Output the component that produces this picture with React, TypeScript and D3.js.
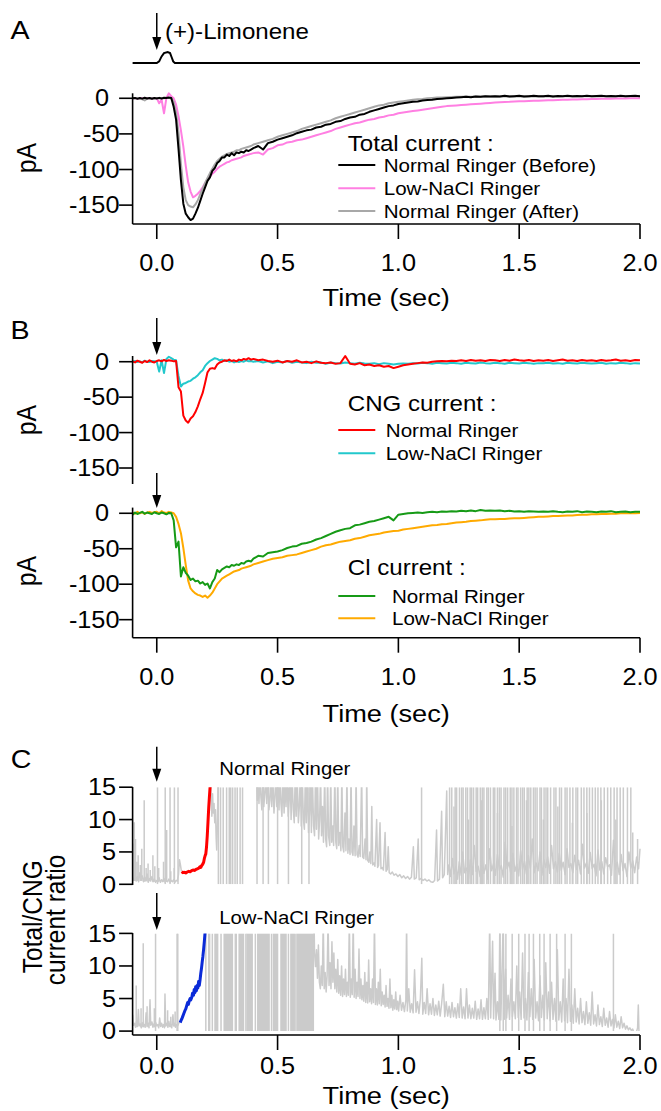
import React from "react";
import * as d3 from "d3";

const FONT = "'Liberation Sans', Arial, Helvetica, sans-serif";
const SX = 1.1;

// ---------- axes ----------
const xTicks = [0, 0.5, 1.0, 1.5, 2.0];
const xTickLabels = ["0.0", "0.5", "1.0", "1.5", "2.0"];
const pATicks = [0, -50, -100, -150];
const ratioTicks = [0, 5, 10, 15];

// sample times of the current traces (A, B)
const tEarly = d3.range(50).map((i) => Math.round((-0.1 + i * 0.01) * 1000) / 1000);
const tLate = d3.range(81).map((i) => Math.round((0.4 + i * 0.02) * 1000) / 1000);

// ---------- Panel A : stimulus ----------
const stimulus = [[-0.1, 0], [0.0, 0], [0.01, 0.15], [0.02, 0.6], [0.03, 0.9], [0.045, 1.0], [0.055, 0.9], [0.062, 0.5], [0.068, 0.15], [0.075, 0], [2.0, 0]];

// ---------- Panel A : total current (pA) ----------
const normalBeforeEarly = [
  0, 0.5, -0.8, 0.3, -0.5, 0.8, -0.3, 0.4, -0.6, 0.5,
  -0.2, 0.6, -0.4, 0.8, 0.3, 1.0, 0.5, -12, -30, -71,
  -115, -148, -162, -167, -171, -169, -162, -154, -144, -134,
  -125, -116, -111, -102, -98, -91, -88, -83, -83, -79,
  -81, -77, -80, -76, -77, -75, -76, -73, -74, -72,
];
const normalBeforeLate = [
  -70, -67, -72, -63, -61, -58, -56, -54, -52, -49,
  -47, -45, -44, -41, -40, -37, -36, -33, -32, -29,
  -27, -26, -23, -22, -19, -17, -15, -13, -11, -10,
  -8, -7, -6, -5, -4.5, -3, -2.5, -2, -1, -0.5,
  0, 0.5, 1, 1.5, 2, 1.5, 2.5, 2, 3, 2.5,
  3, 2.5, 3.5, 2.5, 3, 3.5, 2.5, 3, 3.5, 2.8,
  3, 3.5, 2.5, 3.2, 3, 3.6, 2.8, 3.3, 3, 3.5,
  2.8, 3.2, 3.5, 2.9, 3.3, 3, 3.6, 3, 3.2, 3.4,
  3,
];
const lowNaClEarly = [
  0, 0.3, -0.2, 0.5, 0, -0.3, 0.4, 0.1, -0.2, 0.3,
  0.2, -7, -2, -21, 0.5, 7, 3, 0, -9, -25,
  -45, -68, -95, -118, -131, -139, -137, -134, -130, -125,
  -119, -114, -110, -106, -103, -99, -96, -94, -92, -90,
  -89, -87, -86, -85, -84, -83, -81, -80, -79, -78,
];
const lowNaClLate = [
  -77, -76, -79, -72, -70, -66, -65, -62, -61, -59,
  -58, -56, -54, -52, -50, -48, -46, -43, -41, -39,
  -37, -35, -34, -32, -30, -29, -27, -26, -24, -23,
  -21, -20, -19, -18, -17, -16, -15, -14, -13, -12,
  -11, -10.5, -10, -9.5, -9, -8.5, -8, -7.5, -7, -6.5,
  -6, -5.5, -5.2, -5, -4.6, -4.3, -4, -3.8, -3.5, -3.3,
  -3, -2.8, -2.6, -2.4, -2.2, -2, -1.8, -1.6, -1.4, -1.2,
  -1, -0.9, -0.8, -0.6, -0.5, -0.4, -0.3, -0.2, -0.1, 0,
  0,
];
const normalAfterEarly = [
  0.3, -0.4, 0.6, -0.2, -1.5, -3, -0.5, 0.4, -0.3, 0.2,
  0.5, -0.3, 0.4, 0.2, 0.6, 0.3, 0.2, -5, -20, -48,
  -92, -125, -143, -150, -152, -153, -149, -143, -135, -127,
  -119, -112, -105, -99, -93, -88, -85, -82, -80, -78,
  -77, -76, -75, -73, -73, -71, -70, -69, -68, -67,
];
const normalAfterLate = [
  -65, -63, -61, -59, -57, -54, -52, -50, -48, -46,
  -43, -41, -39, -37, -35, -33, -31, -28, -26, -24,
  -22, -20, -18, -16, -14, -12, -10, -9, -7, -6,
  -5, -4, -3, -2, -1.5, -1, 0, 0.5, 1, 1.2,
  1.5, 1.8, 2, 2.2, 2.4, 2.2, 2.5, 2.3, 2.6, 2.4,
  2.5, 2.6, 2.4, 2.7, 2.5, 2.6, 2.8, 2.5, 2.7, 2.6,
  2.7, 2.5, 2.8, 2.6, 2.7, 2.9, 2.6, 2.8, 2.7, 2.9,
  2.8, 2.6, 2.9, 2.7, 2.8, 3, 2.7, 2.9, 2.8, 3,
  2.9,
];

// ---------- Panel B : CNG current ----------
const cngNormalEarly = [
  0.5, -1, 1.5, 0, -1.5, 1, -0.5, 2, 0, -1,
  1, 2, 0.5, 2.5, 1, 2, 1.5, 0.5, 1, -36,
  -42, -76, -83, -86, -80, -77, -71, -63, -53, -44,
  -30, -15, -10, -9, -10, -4, -1, 0, 2, 1,
  3, 1, 2, 0.5, 3, 2, 4, 3, 5, 3,
];
const cngNormalLate = [
  4, 2, 3, 1, 0, 1.5, -1, 1, 0, 2,
  -1, 0, -2, 0.5, -1.5, -2, -1, -3, -2, 8,
  -3, -4, -2, -5, -4, -6, -5, -7, -6, -9,
  -7, -5, -4, -3, -2, -1, -1.5, 0, 0.5, 1,
  0.5, 1.5, 1, 2, 1, 2.5, 1.5, 2, 1, 2.5,
  2, 1, 2.5, 1.5, 3, 2, 1.5, 2.5, 1, 2,
  1.5, 2.5, 1, 2, 3, 1.5, 2, 1, 2.5, 1.5,
  2, 1, 2.5, 1.5, 2, 3, 1.5, 2, 1, 2.5,
  2,
];
const cngLowEarly = [
  0, 1, -0.5, 0.5, -1, 1.5, 0, -0.5, 1, 0.5,
  0, -14, 2, -16, 4, 7, 5, 3, 2, -20,
  -35, -31, -30, -28, -27, -24, -22, -19, -15, -12,
  -6, -2, 1, 3, 5, 4, 2, 3, 1, 2,
  0, 1, -1, 0.5, -0.5, 1, 0, 2, 0.5, 1,
];
const cngLowLate = [
  0, 1, -1, 0.5, -2, 0, -1, 1, -1.5, 0,
  -1, -2, 0, -1.5, -1, -3, -1, -2, -2.5, -1,
  -2, -3, -1.5, -2.5, -3, -2, -3.5, -2, -3, -4,
  -3, -2.5, -3, -2, -2.5, -1.5, -2, -3, -1.5, -2,
  -2.5, -1.5, -2, -3, -1.5, -2, -2.5, -1, -2, -2.5,
  -1.5, -2, -3, -1.5, -2, -2.5, -1.5, -2, -3, -2,
  -2, -1.5, -2.5, -2, -3, -1.5, -2, -2.5, -1.5, -2,
  -2.5, -2, -1.5, -3, -2, -2.5, -1.5, -2, -3, -2,
  -2.5,
];

// ---------- Panel B : Cl current ----------
const clNormalEarly = [
  -2, 1, -1, 0.5, 2, -0.5, 1, 0, -1, 1.5,
  0, -1, 1, 0, -1.5, 0.5, 0, -10, -48, -40,
  -89, -76, -84, -88, -94, -92, -96, -95, -99, -97,
  -101, -99, -106, -97, -92, -80, -83, -79, -77, -75,
  -76, -73, -74, -72, -73, -70, -71, -68, -67, -68,
];
const clNormalLate = [
  -64, -60, -61, -56, -55, -54, -52, -49, -47, -46,
  -43, -42, -40, -37, -35, -32, -29, -26, -24, -22,
  -21, -17, -16, -14, -12, -11, -9, -7, -5, -10,
  -2, -1, 0, 0.5, 1, 0.5, 1.5, 2, 1.5, 2.5,
  2, 3, 2.5, 3.5, 3, 4, 3, 4.5, 3.5, 4,
  3.5, 4, 3, 3.5, 2.5, 3, 2, 3, 2.5, 2,
  2.5, 2, 3, 2, 1.5, 2.5, 2, 3, 1.5, 2.5,
  2, 1.5, 2.5, 2, 3, 1.5, 2, 2.5, 1.5, 2,
  2,
];
const clLowEarly = [
  1, -0.5, 2, 0, 1.5, -1, 1, 2, 0.5, 1.5,
  2, 0, 3, 1, 0.5, 2, 1, 0, -5, -15,
  -28, -49, -73, -95, -106, -110, -113, -115, -116, -118,
  -116, -119, -116, -112, -106, -100, -96, -92, -90, -88,
  -86, -84, -82, -81, -80, -78, -77, -76, -75, -74,
];
const clLowLate = [
  -72, -70, -68, -66, -64, -63, -62, -60, -59, -58,
  -56, -54, -52, -50, -47, -45, -44, -42, -40, -39,
  -38, -36, -35, -33, -31, -30, -29, -27, -26, -25,
  -24.5, -23, -22, -21, -20, -19, -18, -17, -16.5, -15.5,
  -15, -14, -13, -12.5, -12, -11, -10.5, -10, -9, -8.5,
  -8.5, -8, -8, -7.5, -7, -7, -6.5, -6, -5.5, -5,
  -5, -4.5, -4, -4, -3.5, -3, -3, -2.5, -2, -2,
  -1.5, -1.5, -1, -1, -0.5, -0.5, 0, 0, 0.5, 0,
  0.5,
];

// ---------- Panel C : Total/CNG ratio, Normal Ringer ----------
const ratioNormalGray = [
  [-0.1, 1.0], [-0.095, 0.6], [-0.09, 1.5], [-0.085, 0.5], [-0.08, 1.2], [-0.075, 0.4], [-0.07, 1.8], [-0.065, 0.7], [-0.06, 1.3], [-0.055, 0.4],
  [-0.05, 1.1], [-0.045, 0.5], [-0.04, 1.6], [-0.035, 0.3], [-0.03, 0.9], [-0.025, 0.5], [-0.02, 1.2], [-0.015, 0.4], [-0.01, 0.8], [-0.005, 0.3],
  [0, 0.6], [0.005, 0.4], [0.01, 1.0], [0.015, 0.3], [0.02, 0.7], [0.025, 0.4], [0.03, 0.9], [0.035, 0.3], [0.04, 0.6], [0.045, 0.4],
  [0.05, 0.8], [0.055, 0.3], [0.06, 0.6], [0.065, 0.4], [0.07, 0.7], [0.075, 0.3], [0.08, 0.6], [0.085, 0.5], [0.09, 1.5], [0.094, 3.8],
  [0.098, 3.0], [0.102, 2.0], [0.103, NaN],
  [0.222, 17], [0.225, 13.5], [0.228, 10.5], [0.231, 14], [0.234, 11], [0.237, 12.5], [0.24, 9.5], [0.243, 11.5], [0.246, 7], [0.248, 5.3],
  [0.251, 9], [0.254, 17], [0.41, 17],
  [0.413, 17], [0.416, 13], [0.419, 17], [0.423, 12.5], [0.427, 17], [0.431, 13.5], [0.435, 11.5], [0.439, 17], [0.443, 12], [0.447, 14],
  [0.451, 17], [0.455, 12.5], [0.459, 17], [0.464, 11.5], [0.468, 13], [0.472, 17], [0.476, 12], [0.48, 17], [0.485, 11], [0.489, 13.5],
  [0.493, 17], [0.497, 12], [0.501, 17], [0.506, 11.5], [0.51, 17], [0.514, 12.5], [0.518, 10.5], [0.522, 17], [0.527, 11], [0.531, 17],
  [0.535, 12], [0.539, 17], [0.544, 10.5], [0.548, 13], [0.552, 17], [0.556, 10], [0.56, 17], [0.565, 11.5], [0.569, 9.5], [0.573, 17],
  [0.577, 10.5], [0.581, 17], [0.586, 9.5], [0.59, 12], [0.594, 17], [0.598, 9], [0.602, 17], [0.607, 10], [0.611, 8.5], [0.615, 17],
  [0.619, 9.5], [0.623, 17], [0.628, 8], [0.632, 11], [0.636, 17], [0.64, 8], [0.644, 17], [0.649, 9], [0.653, 7.5], [0.657, 17],
  [0.661, 8.5], [0.665, 17], [0.67, 7], [0.674, 10], [0.678, 17], [0.682, 7.5], [0.686, 12], [0.69, 6.5], [0.695, 17], [0.699, 7],
  [0.703, 5.8], [0.707, 17], [0.711, 7.5], [0.716, 6], [0.72, 17], [0.724, 6.5], [0.728, 9], [0.732, 6], [0.737, 17], [0.741, 6.5],
  [0.745, 5.5], [0.749, 17], [0.753, 6], [0.758, 8], [0.762, 5.2], [0.766, 17], [0.77, 5.8], [0.774, 5], [0.779, 11], [0.783, 5.2],
  [0.787, 17], [0.791, 4.8], [0.795, 7], [0.8, 4.6], [0.804, 17], [0.808, 5], [0.812, 4.5], [0.816, 9], [0.821, 4.4], [0.825, 17],
  [0.829, 4.6], [0.833, 4.2], [0.838, 6], [0.842, 4.3], [0.848, 17], [0.852, 4.2], [0.857, 4.0], [0.862, 7], [0.866, 3.8], [0.869, 17],
  [0.873, 3.7], [0.878, 3.4], [0.882, 5], [0.886, 3.2], [0.89, 12], [0.894, 3.0], [0.899, 3.3], [0.903, 2.8], [0.91, 10], [0.914, 2.6],
  [0.918, 2.9], [0.924, 9.5], [0.928, 2.4], [0.933, 2.6], [0.938, 2.2], [0.945, 8], [0.949, 2.0], [0.954, 2.3], [0.958, 5.8], [0.962, 1.8],
  [0.968, 1.6], [0.975, 1.9], [0.982, 1.4], [0.99, 1.6], [0.998, 1.2], [1.006, 1.5], [1.014, 1.0], [1.022, 1.3], [1.03, 0.9], [1.038, 1.2],
  [1.046, 0.8], [1.054, 1.1], [1.062, 5.8], [1.066, 0.8], [1.074, 1.0], [1.082, 7], [1.086, 0.7], [1.094, 0.9], [1.102, 0.6], [1.11, 0.8],
  [1.118, 0.5], [1.126, 0.7], [1.134, 0.4], [1.142, 0.3], [1.15, 0.6], [1.158, 8.4], [1.162, 0.5], [1.17, 0.8], [1.179, 11.3], [1.183, 1.0],
  [1.19, 1.5], [1.2, 14.4], [1.204, 1.5], [1.21, 3], [1.216, 1.2], [1.224, 4], [1.23, 1.6], [1.238, 2.8], [1.245, 0.8], [1.252, 3.5],
  [1.26, 1.4], [1.266, 5], [1.274, 1.8], [1.282, 2.5], [1.29, 0.9], [1.298, 3.8], [1.306, 1.5], [1.314, 6], [1.322, 2], [1.33, 2.8],
  [1.338, 1.2], [1.346, 4.2], [1.354, 1.7], [1.362, 3], [1.37, 0.8], [1.378, 5.5], [1.386, 2.1], [1.394, 3.2], [1.402, 1.4], [1.41, 4.6],
  [1.418, 2.2], [1.426, 2.9], [1.434, 1.1], [1.442, 6.5], [1.45, 2.4], [1.458, 3.4], [1.466, 1.5], [1.474, 4.8], [1.482, 2], [1.49, 3.1],
  [1.498, 1.3], [1.506, 5.2], [1.514, 2.3], [1.522, 3.6], [1.53, 1.6], [1.538, 4.4], [1.546, 2.5], [1.554, 7], [1.562, 1.8], [1.57, 3.3],
  [1.578, 2.1], [1.586, 5], [1.594, 1.4], [1.602, 3.8], [1.61, 2.6], [1.618, 4.2], [1.626, 1.7], [1.634, 6], [1.642, 2.4], [1.65, 3.5],
  [1.658, 1.9], [1.666, 4.8], [1.674, 2.2], [1.682, 3.4], [1.69, 1.5], [1.698, 5.5], [1.706, 2.6], [1.714, 3.2], [1.722, 1.8], [1.73, 4.5],
  [1.738, 2.3], [1.746, 3.7], [1.754, 1.6], [1.762, 6.2], [1.77, 2.5], [1.778, 3.3], [1.786, 1.7], [1.794, 4.9], [1.802, 2.4], [1.81, 3.1],
  [1.818, 1.3], [1.826, 5.3], [1.834, 2.2], [1.842, 3.5], [1.85, 1.6], [1.858, 4.1], [1.866, 2.7], [1.874, 3], [1.882, 1.4], [1.89, 6.8],
  [1.898, 2.3], [1.906, 3.4], [1.914, 1.5], [1.922, 4.6], [1.93, 2.1], [1.938, 3.2], [1.946, 1.2], [1.954, 5], [1.962, 2.5], [1.97, 3.6],
  [1.978, 1.8], [1.986, 4.2], [1.994, 2.4], [2.0, 5.5],
];
// [time, from, to] partial excursions
const ratioNormalSpikes = [
  [-0.099, 0.5, 6.3], [-0.093, 0.5, 9.6], [-0.088, 0.5, 7.0], [-0.082, 0.5, 3.5], [-0.077, 0.5, 4.5], [-0.068, 0.5, 3.0], [-0.062, 0.5, 5.5],
  [-0.052, 0.4, 13.0], [-0.044, 0.5, 2.5], [-0.036, 0.4, 3.2], [-0.027, 0.5, 2.2], [-0.016, 0.4, 4.5], [-0.008, 0.4, 2.8], [0.008, 0.4, 2.5],
  [0.028, 0.4, 3.5], [0.041, 0.4, 8.4], [0.058, 0.4, 2.0], [0.072, 0.4, 2.5],
  [1.23, 0, 12], [1.29, 0, 10], [1.345, 0, 13], [1.41, 0, 11], [1.47, 0, 9], [1.53, 0, 13], [1.6, 0, 10], [1.66, 0, 12], [1.72, 0, 9.5],
  [1.78, 0, 11], [1.84, 0, 13], [1.9, 0, 10], [1.97, 0, 8], [1.99, 0, 7],
];
// times of off-scale (full height) excursions
const ratioNormalFull = [
  0.003, 0.035, 0.055, 0.073, 0.088, 0.255, 0.264, 0.275, 0.289, 0.3, 0.306, 0.314, 0.324, 0.333, 0.345, 0.355,
  0.415, 0.44, 0.462, 0.5, 0.545, 0.6, 0.63, 1.096,
  1.212, 1.221, 1.235, 1.241, 1.253, 1.262, 1.268, 1.279, 1.286, 1.297, 1.303, 1.311, 1.322, 1.328, 1.339, 1.347, 1.354, 1.366,
  1.372, 1.381, 1.393, 1.399, 1.41, 1.418, 1.425, 1.437, 1.444, 1.452, 1.463, 1.47, 1.478, 1.489, 1.495, 1.506, 1.514, 1.521,
  1.533, 1.54, 1.548, 1.559, 1.566, 1.574, 1.586, 1.592, 1.603, 1.611, 1.618, 1.63, 1.644, 1.652, 1.667, 1.675, 1.69, 1.698,
  1.71, 1.722, 1.735, 1.742, 1.757, 1.768, 1.78, 1.791, 1.803, 1.815, 1.826, 1.838, 1.852, 1.866, 1.879, 1.893, 1.905, 1.918,
  1.931, 1.948, 1.962,
];
const ratioNormalRed = [
  [0.103, 1.95], [0.108, 1.8], [0.114, 1.85], [0.12, 1.75], [0.126, 1.9], [0.132, 2.0], [0.138, 1.95], [0.144, 2.1], [0.15, 2.2],
  [0.156, 2.15], [0.162, 2.3], [0.168, 2.4], [0.174, 2.5], [0.178, 2.7], [0.182, 2.6], [0.186, 2.9], [0.19, 3.1], [0.194, 3.4],
  [0.197, 4.0], [0.2, 4.4], [0.203, 4.7], [0.206, 5.8], [0.209, 7.5], [0.212, 9.6], [0.215, 11.8], [0.218, 13.6], [0.221, 15.2],
];

// ---------- Panel C : Total/CNG ratio, Low-NaCl Ringer ----------
const ratioLowGray = [
  [-0.1, 2.5], [-0.097, 0.9], [-0.092, 1.2], [-0.088, 0.6], [-0.084, 1.5], [-0.08, 0.7], [-0.076, 3.3], [-0.073, 0.8], [-0.068, 1.1], [-0.064, 0.5],
  [-0.06, 1.3], [-0.056, 0.7], [-0.052, 1.0], [-0.048, 0.6], [-0.044, 2.8], [-0.04, 0.8], [-0.036, 1.2], [-0.032, 0.5], [-0.028, 4.8], [-0.025, 0.9],
  [-0.02, 1.4], [-0.016, 0.6], [-0.012, 1.1], [-0.008, 0.7], [-0.004, 1.3], [0.0, 0.8], [0.004, 1.0], [0.008, 0.5], [0.012, 2.0], [0.016, 0.7],
  [0.02, 1.2], [0.024, 0.6], [0.028, 1.0], [0.032, 0.5], [0.034, 5.7], [0.037, 0.8], [0.042, 1.2], [0.046, 0.6], [0.05, 1.5], [0.054, 0.7],
  [0.058, 1.0], [0.062, 0.5], [0.067, 2.5], [0.07, 0.8], [0.074, 1.2], [0.078, 0.6], [0.082, 1.0], [0.086, 0.8], [0.09, 1.1], [0.093, 1.4],
  [0.095, NaN],
  [0.651, 17], [0.653, 12], [0.657, 9.9], [0.661, 12.5], [0.665, 8.1], [0.669, 13.2], [0.673, 7.5], [0.677, 6.5], [0.681, 10], [0.685, 7],
  [0.689, 17], [0.693, 6.5], [0.697, 9], [0.701, 6.0], [0.705, 8.5], [0.709, 17], [0.713, 7], [0.717, 10.5], [0.721, 6.5], [0.725, 13.7],
  [0.729, 7.5], [0.733, 12], [0.737, 6.5], [0.741, 9.5], [0.745, 6], [0.749, 11], [0.753, 5.8], [0.757, 8.5], [0.761, 5.5], [0.765, 10],
  [0.769, 5.3], [0.773, 8], [0.777, 5.6], [0.781, 9.5], [0.785, 5.3], [0.789, 7.5], [0.793, 5.5], [0.797, 17], [0.801, 5.2], [0.805, 8],
  [0.809, 5.6], [0.813, 17], [0.817, 5.2], [0.821, 9.5], [0.825, 5.0], [0.829, 7.5], [0.833, 5.3], [0.837, 12.6], [0.841, 5.0], [0.845, 8],
  [0.849, 4.8], [0.853, 7], [0.857, 4.6], [0.861, 9], [0.865, 4.4], [0.869, 7.5], [0.873, 4.3], [0.877, 10.9], [0.881, 4.5], [0.885, 6.5],
  [0.889, 4.2], [0.893, 8], [0.897, 4.4], [0.901, 17], [0.905, 4.1], [0.909, 6.5], [0.913, 4.0], [0.917, 7.5], [0.921, 4.2], [0.925, 9.5],
  [0.929, 3.9], [0.933, 6], [0.937, 4.1], [0.941, 5.5], [0.945, 3.7], [0.949, 7], [0.953, 3.8], [0.957, 5], [0.961, 3.5], [0.965, 8],
  [0.969, 3.6], [0.973, 5.5], [0.977, 3.2], [0.981, 4.8], [0.985, 3.4], [0.989, 6], [0.993, 3.3], [0.997, 4.6], [1.001, 3.1], [1.007, 5.5],
  [1.013, 3.2], [1.019, 4.4], [1.025, 3.0], [1.031, 4.8], [1.034, 17], [1.037, 3.1], [1.043, 6.5], [1.049, 2.9], [1.055, 4.2], [1.061, 2.8],
  [1.067, 9.4], [1.073, 2.9], [1.079, 4.5], [1.085, 2.7], [1.091, 5], [1.097, 11.2], [1.101, 2.6], [1.107, 4.4], [1.113, 2.7], [1.119, 6.5],
  [1.125, 2.5], [1.131, 4.2], [1.137, 2.6], [1.143, 5], [1.149, 2.4], [1.155, 4], [1.161, 2.5], [1.167, 4.6], [1.173, 2.3], [1.179, 4.2],
  [1.186, 7.2], [1.192, 2.2], [1.198, 4.5], [1.204, 2.3], [1.21, 3.8], [1.216, 2.1], [1.222, 4.4], [1.228, 2.2], [1.234, 3.6], [1.24, 2.0],
  [1.246, 4.2], [1.252, 2.1], [1.258, 6.5], [1.264, 2.0], [1.27, 3.7], [1.276, 1.9], [1.282, 6.5], [1.288, 2.0], [1.294, 4], [1.3, 1.9],
  [1.306, 3.5], [1.312, 2.0], [1.318, 4.6], [1.324, 1.8], [1.33, 3.4], [1.336, 1.9], [1.342, 4.8], [1.348, 1.8], [1.354, 3.6], [1.36, 1.9],
  [1.366, 5], [1.372, 1.8], [1.378, 17], [1.382, 2.0], [1.39, 13.8], [1.394, 1.9], [1.4, 8.9], [1.404, 1.7], [1.41, 4.5], [1.416, 1.8],
  [1.42, 17], [1.424, 1.7], [1.434, 17], [1.438, 1.8], [1.444, 9.5], [1.448, 2], [1.454, 5.5], [1.46, 1.8], [1.466, 8], [1.472, 2.2],
  [1.478, 4.5], [1.484, 1.9], [1.49, 10], [1.496, 2.1], [1.502, 6], [1.508, 1.8], [1.514, 12], [1.52, 2.0], [1.526, 5], [1.532, 1.7],
  [1.538, 9], [1.544, 2.2], [1.55, 6.5], [1.556, 1.8], [1.562, 11], [1.568, 2.0], [1.574, 4.5], [1.58, 1.6], [1.586, 8.5], [1.592, 2.1],
  [1.598, 5.5], [1.604, 1.7], [1.61, 10.5], [1.616, 1.9], [1.622, 6], [1.628, 1.6], [1.634, 7.5], [1.64, 1.8], [1.646, 5], [1.652, 1.5],
  [1.658, 12.5], [1.664, 1.7], [1.67, 4.5], [1.676, 1.4], [1.682, 8], [1.688, 1.6], [1.694, 5], [1.7, 1.3], [1.706, 9.5], [1.712, 1.5],
  [1.718, 4], [1.724, 1.2], [1.73, 6.5], [1.736, 1.4], [1.742, 3.5], [1.748, 1.1], [1.754, 5], [1.76, 1.3], [1.766, 3], [1.772, 1.0],
  [1.778, 4.5], [1.784, 1.2], [1.79, 2.8], [1.796, 0.9], [1.802, 6], [1.808, 1.1], [1.814, 2.5], [1.82, 0.8], [1.826, 4], [1.832, 1.0],
  [1.838, 2.2], [1.844, 0.7], [1.85, 3.5], [1.856, 0.9], [1.862, 2.0], [1.868, 0.6], [1.874, 3], [1.88, 0.8], [1.886, 1.8], [1.892, 0.5],
  [1.898, 2.5], [1.904, 0.6], [1.91, 1.5], [1.916, 0.4], [1.922, 2.2], [1.928, 0.5], [1.934, 1.2], [1.94, 0.3], [1.946, 0.8], [1.952, 0.2],
  [1.958, 0.5], [1.964, 0.1], [1.97, 0.3], [1.976, -0.5], [1.984, -0.3], [1.99, 0.5], [1.993, 4.0], [1.996, -0.5], [2.0, -0.5],
];
const ratioLowSpikes = [
  [-0.085, 0.6, 7], [-0.065, 0.6, 3.5], [-0.056, 0.6, 13.5], [-0.04, 0.6, 3.8], [-0.01, 0.6, 3.5], [0.045, 0.6, 3.2], [0.058, 0.6, 2.2], [0.076, 0.6, 3.0],
];
const ratioLowFull = [
  -0.005, 0.084, 0.087, 0.203, 0.23, 0.266, 0.369, 0.408, 0.475, 0.545, 0.576,
  1.42, 1.434, 1.445, 1.471, 1.498, 1.524, 1.541, 1.559, 1.585, 1.603, 1.628, 1.655, 1.69, 1.716, 1.89,
];
// [start, end] of stretches where the ratio flips off scale continuously
const ratioLowBands = [
  [0.212, 0.222], [0.238, 0.255], [0.276, 0.316], [0.322, 0.332], [0.338, 0.362], [0.371, 0.398],
  [0.415, 0.468], [0.48, 0.503], [0.511, 0.538], [0.552, 0.572], [0.579, 0.651],
];
const ratioLowBlue = [
  [0.097, 1.3], [0.1, 1.6], [0.104, 1.9], [0.108, 2.3], [0.112, 2.7], [0.116, 3.1], [0.12, 3.4], [0.124, 3.9], [0.128, 4.4], [0.131, 4.1],
  [0.134, 4.6], [0.138, 5.0], [0.141, 4.8], [0.145, 5.2], [0.148, 5.8], [0.152, 5.5], [0.155, 6.4], [0.158, 5.9], [0.161, 6.8], [0.164, 6.2],
  [0.167, 7.0], [0.17, 6.6], [0.173, 7.6], [0.176, 7.0], [0.179, 7.8], [0.182, 8.8], [0.185, 9.6], [0.188, 10.6], [0.191, 11.5], [0.194, 12.6],
  [0.197, 13.8], [0.2, 15.2],
];

// ---------- legends ----------
const legendA = [
  { label: "Normal Ringer (Before)", color: "#000000" },
  { label: "Low-NaCl Ringer", color: "#ff7fe2" },
  { label: "Normal Ringer (After)", color: "#a8a8a8" },
];
const legendCNG = [
  { label: "Normal Ringer", color: "#ff0000" },
  { label: "Low-NaCl Ringer", color: "#22c8cc" },
];
const legendCl = [
  { label: "Normal Ringer", color: "#169a16" },
  { label: "Low-NaCl Ringer", color: "#ffaa00" },
];

// ---------- helpers ----------
const join = (early: number[], late: number[]) => [
  ...tEarly.map((t, i) => [t, early[i]]),
  ...tLate.map((t, i) => [t, late[i]]),
];

const x = d3.scaleLinear().domain([-0.1, 2.0]).range([132.6, 640]);
const yA = d3.scaleLinear().domain([-176.5, 7]).range([224, 93.3]);
const yStim = d3.scaleLinear().domain([0, 1]).range([63, 52]);
const yB1 = d3.scaleLinear().domain([-172, 7.5]).range([483.6, 356.4]);
const yB2 = d3.scaleLinear().domain([-175, 8]).range([637.4, 507.6]);
const yC1 = d3.scaleLinear().domain([0, 15]).range([884.3, 787.2]);
const yC2 = d3.scaleLinear().domain([-0.6, 15]).range([1035, 933.4]);

function pathOf(data: any[], ys: any) {
  return (
    d3
      .line<any>()
      .defined((d) => !isNaN(d[1]))
      .x((d) => x(d[0]))
      .y((d) => ys(d[1]))(data) || ""
  );
}

function T({ x, y, size, anchor = "start", rot = 0, children }: any) {
  return (
    <text
      transform={`translate(${x},${y}) scale(${SX},1)` + (rot ? ` rotate(${rot})` : "")}
      fontSize={size}
      textAnchor={anchor}
      fontFamily={FONT}
      fill="#000"
    >
      {children}
    </text>
  );
}

function Arrow({ xp, y0, y1 }: any) {
  return (
    <g>
      <line x1={xp} x2={xp} y1={y0} y2={y1 - 10} stroke="#000" strokeWidth={1.5} />
      <polygon points={`${xp - 4.5},${y1 - 13} ${xp + 4.5},${y1 - 13} ${xp},${y1}`} fill="#000" />
    </g>
  );
}

function YAxis({ ys, ticks, top, bottom, labelRight, zeroRight }: any) {
  const x0 = x.range()[0];
  return (
    <g>
      <line x1={x0} x2={x0} y1={top} y2={bottom} stroke="#000" strokeWidth={1.6} />
      {ticks.map((v: number) => (
        <g key={v}>
          <line x1={x0 - 13.5} x2={x0} y1={ys(v)} y2={ys(v)} stroke="#000" strokeWidth={1.6} />
          <T x={v === 0 && zeroRight ? zeroRight : labelRight} y={ys(v) + 8.2} size={23} anchor="end">
            {String(v)}
          </T>
        </g>
      ))}
    </g>
  );
}

function XAxis({ y0, labelY, titleY }: any) {
  const [r0, r1] = x.range();
  return (
    <g>
      <line x1={r0} x2={r1} y1={y0} y2={y0} stroke="#000" strokeWidth={1.6} />
      {xTicks.map((t, i) => (
        <g key={t}>
          <line x1={x(t)} x2={x(t)} y1={y0} y2={y0 + 15} stroke="#000" strokeWidth={1.6} />
          <T x={x(t)} y={labelY} size={23} anchor="middle">
            {xTickLabels[i]}
          </T>
        </g>
      ))}
      <T x={386.2} y={titleY} size={24.7} anchor="middle">
        Time (sec)
      </T>
    </g>
  );
}

function Legend({ title, items, x0, titleY, rowYs, textX }: any) {
  return (
    <g>
      <T x={x0} y={titleY} size={21.9}>
        {title}
      </T>
      {items.map((it: any, i: number) => (
        <g key={it.label}>
          <line x1={x0 - 9.5} x2={x0 + 27.5} y1={rowYs[i]} y2={rowYs[i]} stroke={it.color} strokeWidth={2} />
          <T x={textX} y={rowYs[i] + 6.7} size={18.7}>
            {it.label}
          </T>
        </g>
      ))}
    </g>
  );
}

function Trace({ data, ys, color, width = 2 }: any) {
  return <path d={pathOf(data, ys)} fill="none" stroke={color} strokeWidth={width} strokeLinejoin="round" />;
}

function RatioPanel({ ys, gray, spikes, full, bands, colored, color, clipId }: any) {
  const top = ys(15);
  const bot = ys(0);
  const [r0, r1] = x.range();
  const g = "#cbcbcb";
  return (
    <g>
      <defs>
        <clipPath id={clipId}>
          <rect x={r0} y={top} width={r1 - r0 + 2} height={bot - top} />
        </clipPath>
      </defs>
      <g clipPath={`url(#${clipId})`}>
        {bands.map((b: number[], i: number) => (
          <rect key={"b" + i} x={x(b[0])} y={top} width={x(b[1]) - x(b[0])} height={bot - top} fill={g} />
        ))}
        {full.map((t: number, i: number) => (
          <line key={"f" + i} x1={x(t)} x2={x(t)} y1={bot} y2={top} stroke={g} strokeWidth={1.5} />
        ))}
        {spikes.map((s: number[], i: number) => (
          <line key={"s" + i} x1={x(s[0])} x2={x(s[0])} y1={ys(s[1])} y2={ys(Math.min(s[2], 15))} stroke={g} strokeWidth={1.5} />
        ))}
        <path d={pathOf(gray, ys)} fill="none" stroke={g} strokeWidth={1.5} strokeLinejoin="round" />
        <path d={pathOf(colored, ys)} fill="none" stroke={color} strokeWidth={3} strokeLinejoin="round" />
      </g>
    </g>
  );
}

export default function App() {
  const t0 = x(0);
  return (
    <svg
      width={661}
      height={1111}
      viewBox="0 0 661 1111"
      style={{ position: "absolute", left: 0, top: 0, background: "#fff" }}
    >
      <rect x={0} y={0} width={661} height={1111} fill="#fff" />

      {/* ---------------- Panel A ---------------- */}
      <T x={20} y={39.3} size={26} anchor="middle">A</T>
      <Arrow xp={t0} y0={13} y1={50} />
      <T x={165} y={38.5} size={21.9}>(+)-Limonene</T>
      <path d={d3.line<any>().x((d) => x(d[0])).y((d) => yStim(d[1]))(stimulus) || ""} fill="none" stroke="#000" strokeWidth={2} />

      <Trace data={join(lowNaClEarly, lowNaClLate)} ys={yA} color="#ff7fe2" />
      <Trace data={join(normalAfterEarly, normalAfterLate)} ys={yA} color="#a8a8a8" />
      <Trace data={join(normalBeforeEarly, normalBeforeLate)} ys={yA} color="#000000" />

      <YAxis ys={yA} ticks={pATicks} top={93.3} bottom={224} labelRight={119.5} zeroRight={109} />
      <T x={36} y={158} size={25} anchor="middle" rot={-90}>pA</T>
      <XAxis y0={224} labelY={271.2} titleY={305.8} />
      <Legend title="Total current :" items={legendA} x0={347.8} titleY={151.1} rowYs={[165, 188.3, 211]} textX={383.7} />

      {/* ---------------- Panel B ---------------- */}
      <T x={20} y={339.3} size={26} anchor="middle">B</T>
      <Arrow xp={t0} y0={318} y1={355} />
      <Trace data={join(cngLowEarly, cngLowLate)} ys={yB1} color="#22c8cc" />
      <Trace data={join(cngNormalEarly, cngNormalLate)} ys={yB1} color="#ff0000" />
      <YAxis ys={yB1} ticks={pATicks} top={356} bottom={484} labelRight={119.5} zeroRight={109} />
      <T x={36} y={420} size={25} anchor="middle" rot={-90}>pA</T>
      <Legend title="CNG current :" items={legendCNG} x0={347.8} titleY={411.1} rowYs={[430, 453.3]} textX={385.8} />

      <Arrow xp={t0} y0={473} y1={508} />
      <Trace data={join(clLowEarly, clLowLate)} ys={yB2} color="#ffaa00" />
      <Trace data={join(clNormalEarly, clNormalLate)} ys={yB2} color="#169a16" />
      <YAxis ys={yB2} ticks={pATicks} top={507.6} bottom={637.7} labelRight={119.5} zeroRight={109} />
      <T x={36} y={571} size={25} anchor="middle" rot={-90}>pA</T>
      <Legend title="Cl current :" items={legendCl} x0={347.8} titleY={575.1} rowYs={[596, 618.3]} textX={392} />
      <XAxis y0={637.7} labelY={684.9} titleY={721.8} />

      {/* ---------------- Panel C ---------------- */}
      <T x={21} y={767.6} size={26} anchor="middle">C</T>
      <Arrow xp={t0} y0={746.7} y1={781.7} />
      <T x={219.2} y={774.6} size={18.5}>Normal Ringer</T>
      <RatioPanel
        ys={yC1}
        gray={ratioNormalGray}
        spikes={ratioNormalSpikes}
        full={ratioNormalFull}
        bands={[]}
        colored={ratioNormalRed}
        color="#ff0000"
        clipId="clipC1"
      />
      <YAxis ys={yC1} ticks={ratioTicks} top={787} bottom={885} labelRight={116} />

      <Arrow xp={t0} y0={893} y1={930} />
      <T x={219.2} y={923.9} size={18.5}>Low-NaCl Ringer</T>
      <RatioPanel
        ys={yC2}
        gray={ratioLowGray}
        spikes={ratioLowSpikes}
        full={ratioLowFull}
        bands={ratioLowBands}
        colored={ratioLowBlue}
        color="#0a2ad8"
        clipId="clipC2"
      />
      <YAxis ys={yC2} ticks={ratioTicks} top={933} bottom={1035} labelRight={116} />
      <XAxis y0={1035} labelY={1073.5} titleY={1104.2} />
      <T x={42} y={916.7} size={24.5} anchor="middle" rot={-90}>Total/CNG</T>
      <T x={65} y={920} size={24.5} anchor="middle" rot={-90}>current ratio</T>
    </svg>
  );
}
